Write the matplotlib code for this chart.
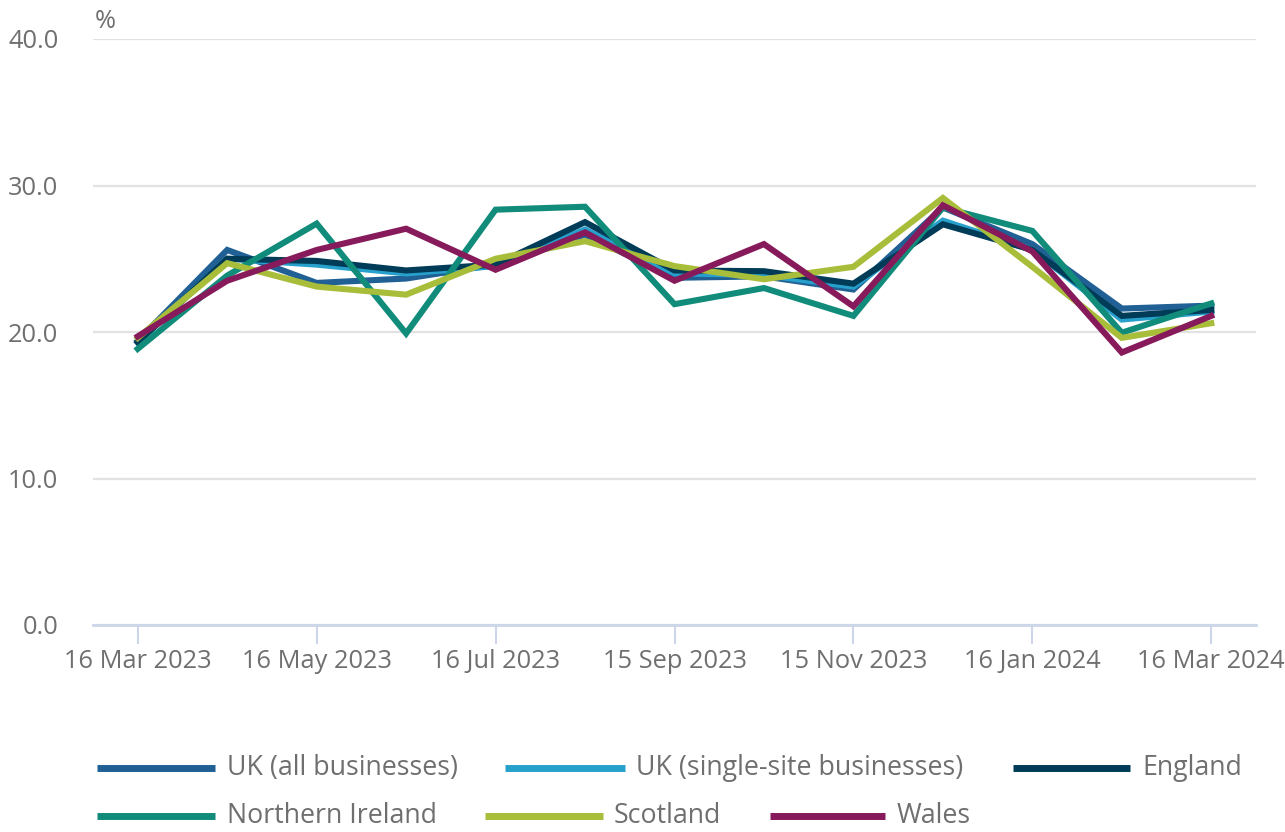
import matplotlib
matplotlib.use("Agg")
import matplotlib.pyplot as plt
from matplotlib.lines import Line2D

dates = ["16 Mar 2023", "16 Apr 2023", "16 May 2023", "16 Jun 2023", "16 Jul 2023",
         "16 Aug 2023", "15 Sep 2023", "15 Oct 2023", "15 Nov 2023", "15 Dec 2023",
         "16 Jan 2024", "16 Feb 2024", "16 Mar 2024"]

uk_all = [19.4, 25.6, 23.35, 23.65, 24.6, 26.65, 23.7, 23.8, 22.9, 28.5, 26.0, 21.6, 21.8]
uk_single = [19.3, 25.0, 24.6, 24.0, 24.5, 27.0, 24.0, 23.9, 23.1, 27.6, 25.6, 20.85, 21.4]
england = [19.3, 25.0, 24.85, 24.2, 24.6, 27.5, 24.2, 24.15, 23.3, 27.35, 25.6, 21.1, 21.5]
northern_ireland = [18.85, 23.85, 27.4, 19.9, 28.35, 28.55, 21.9, 23.0, 21.1, 28.5, 26.9, 19.95, 21.95]
scotland = [19.6, 24.7, 23.1, 22.55, 25.0, 26.2, 24.5, 23.6, 24.45, 29.15, 24.45, 19.6, 20.6]
wales = [19.7, 23.5, 25.6, 27.05, 24.25, 26.8, 23.5, 26.0, 21.75, 28.65, 25.5, 18.6, 21.1]

series_names = ["UK (all businesses)", "UK (single-site businesses)", "England",
                "Northern Ireland", "Scotland", "Wales"]
series_values = [uk_all, uk_single, england, northern_ireland, scotland, wales]
colors = ["#206095", "#27a0cc", "#003c57", "#118c7b", "#a8bd3a", "#871a5b"]

yticks = [0, 10, 20, 30, 40]

plt.rcParams['font.family'] = ['Open Sans', 'DejaVu Sans']
TXT = "#6f6f6f"
FS = 18.3
LFS = 19.3

fig = plt.figure(figsize=(12.85, 8.32), dpi=100)
ax = fig.add_axes([93/1285, 1 - 625/832, (1256-93)/1285, (625-39)/832])

x = list(range(len(dates)))
for vals, c in zip(series_values, colors):
    ax.plot(x, vals, color=c, lw=4.4, solid_joinstyle='miter', clip_on=False, zorder=3)

ax.set_xlim(-0.5, len(dates) - 0.5)
ax.set_ylim(0, 40)
ax.set_yticks(yticks)
ax.set_yticklabels([f"{v:.1f}" for v in yticks])
ax.yaxis.grid(True, color="#e2e2e2", lw=1.6)
ax.set_axisbelow(True)
for s in ["top", "right", "left"]:
    ax.spines[s].set_visible(False)
ax.spines["bottom"].set_color("#ccd6e8")
ax.spines["bottom"].set_linewidth(2)
ax.spines["bottom"].set_zorder(1)

tick_idx = list(range(0, len(dates), 2))
ax.set_xticks(tick_idx)
ax.set_xticklabels([dates[i] for i in tick_idx])
ax.tick_params(axis='x', length=14, width=1.5, color="#ccd6e8", labelsize=FS,
               labelcolor=TXT, pad=3)
ax.tick_params(axis='y', length=0, labelsize=FS, labelcolor=TXT, pad=25)

fig.text(95/1285, 1 - 22/832, "%", fontsize=FS, color=TXT, ha='left', va='center')

# legend (flow layout)
rows = [
    [(97, 215, 227, 0), (505, 625, 636, 1), (1013, 1130, 1142, 2)],
    [(97, 215, 227, 3), (485, 603, 614, 4), (770, 885, 897, 5)],
]
row_y = [768, 816]
for r, entries in enumerate(rows):
    yy = 1 - row_y[r] / 832
    for x0, x1, xt, i in entries:
        fig.add_artist(Line2D([x0/1285, x1/1285], [yy, yy], color=colors[i], lw=5,
                              solid_capstyle='butt', transform=fig.transFigure))
        fig.text(xt/1285, yy, series_names[i], fontsize=LFS, color=TXT,
                 ha='left', va='center')

fig.savefig("out.png", dpi=100)
